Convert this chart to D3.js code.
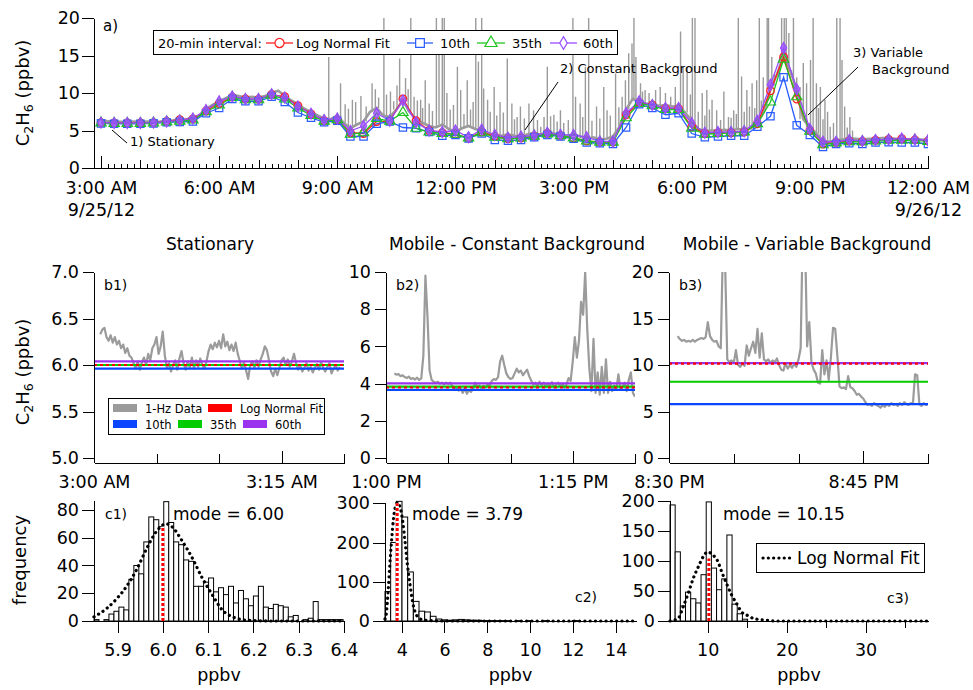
<!DOCTYPE html>
<html>
<head>
<meta charset="utf-8">
<script src="https://cdn.jsdelivr.net/npm/d3@7"></script>
<style>
  body { margin: 0; background: #fff; }
  svg text { font-family: "DejaVu Sans", sans-serif; fill: #000; }
</style>
</head>
<body>
<svg id="chart" width="973" height="690"></svg>
<script>
// ---------------- data ----------------
// (a) 20-minute interval background estimates, 3:00 AM 9/25/12 to 12:00 AM 9/26/12
const intervalMinutes = 20;
const logNormalFit = [6.05,6.00,6.00,6.00,6.05,6.20,6.45,6.55,7.60,8.60,9.45,9.20,9.15,9.80,9.50,8.30,
  7.20,6.30,6.40,4.70,4.60,6.20,6.25,9.20,6.30,5.00,4.70,4.50,4.00,4.80,4.20,3.90,
  4.00,4.25,4.60,4.30,4.00,3.60,3.45,3.45,7.10,8.70,8.40,7.90,7.90,5.50,4.60,4.70,
  4.70,4.80,5.90,10.30,14.80,9.20,5.00,3.20,3.40,3.60,3.55,3.70,3.80,3.90,3.75,3.60];
const pct10 = [5.95,5.90,5.90,5.90,5.95,6.10,6.15,6.20,7.30,8.00,9.20,8.90,8.90,9.50,8.80,7.40,
  6.70,6.10,6.30,4.20,4.20,5.90,6.20,5.40,5.30,4.80,4.30,4.40,3.95,4.60,3.75,3.65,
  3.75,4.10,4.40,4.20,3.90,3.40,3.30,3.20,5.40,8.50,8.00,7.10,7.30,4.60,4.10,4.20,
  4.30,4.30,5.50,6.90,12.10,5.70,4.40,2.80,3.20,3.30,3.20,3.40,3.45,3.40,3.40,3.20];
const pct35 = [6.00,5.95,5.95,5.95,6.00,6.15,6.25,6.40,7.50,8.40,9.40,9.10,9.10,9.70,9.20,8.00,
  7.00,6.25,6.45,4.50,4.70,6.60,6.25,7.40,5.30,4.80,4.60,4.50,4.00,4.70,4.10,3.90,
  4.00,4.25,4.55,4.30,4.00,3.60,3.45,3.45,6.70,8.60,8.30,7.80,7.80,5.30,4.50,4.60,
  4.70,4.80,5.90,8.80,14.50,9.50,4.90,3.10,3.35,3.50,3.50,3.60,3.70,3.70,3.70,3.55];
const pct60 = [6.05,6.00,6.00,6.00,6.05,6.20,6.35,6.60,7.75,8.90,9.55,9.20,9.20,9.85,9.40,8.20,
  7.25,6.40,6.60,4.95,5.60,7.30,6.30,9.00,6.10,5.00,4.80,5.00,4.10,5.15,4.40,4.05,
  4.20,4.35,4.70,4.45,4.40,4.10,3.55,3.55,7.30,8.90,8.40,8.00,8.00,6.00,4.70,4.80,
  4.80,4.90,6.30,11.10,16.00,10.50,5.20,3.50,3.50,3.75,3.60,3.75,3.80,3.95,3.80,3.70];

// (a) 1-Hz record: 10-minute background level from 3:00 AM, plus plume spikes [time, peak]
const greyBaseMinutes = 10;
const greyBase = [6.35,6.25,6.2,6.15,6.15,6.2,6.15,6.2,6.15,6.2,6.3,6.35,
  6.45,6.5,6.7,7.0,7.9,8.4,
  8.9,9.3,9.7,9.6,9.4,9.5,9.4,9.6,10.0,10.3,9.6,9.0,
  8.5,7.9,7.4,7.0,6.6,6.5,
  7.0,6.0,5.3,5.8,6.2,7.5,8.0,7.0,6.8,7.8,9.0,7.5,6.5,6.0,5.6,5.4,5.8,5.2,
  4.8,5.3,5.6,5.2,5.0,4.6,4.4,4.3,4.5,4.3,4.1,4.5,4.7,4.4,4.9,4.6,4.5,4.3,
  4.5,4.2,3.9,4.1,3.8,3.9,4.2,5.5,7.8,9.2,8.8,8.6,8.5,8.3,8.4,8.2,8.3,7.4,
  6.3,5.2,4.9,5.0,5.0,5.1,5.0,5.2,5.1,5.3,6.0,7.5,10.5,12.5,15.0,13.0,10.5,6.5,
  5.4,4.6,3.6,3.5,3.7,3.8,4.0,3.9,3.8,3.9,3.9,4.0,4.0,3.9,3.9,3.8,3.9,3.8,3.7];
const greySpikes = [
  ["08:47",14.8],["09:05",11.3],["09:23",9.1],["09:53",11.3],["10:11",22],["10:21",10.2],
  ["10:35",14.6],["10:52",22],["10:57",9.5],["11:07",9.1],["11:14",11.7],["11:31",22],
  ["11:35",16.4],["11:40",22],["11:43",22],["11:47",10.0],["12:03",13.5],["12:08",10.4],
  ["12:18",11.7],["12:31",22],["12:35",14.2],["12:40",22],["12:43",10.6],["12:49",9.1],
  ["12:59",10.8],["13:08",8.8],["13:19",14.6],["13:26",8.6],["13:34",6.8],["13:39",8.2],
  ["13:52",8.6],["13:59",7.7],["14:10",5.5],["14:20",13.5],["14:30",7.1],["14:40",7.7],
  ["14:59",22],["15:03",9.5],["15:10",8.6],["15:18",13.5],["15:23",22],["15:35",8.2],
  ["15:46",10.8],["15:51",7.7],["16:04",12.6],["16:14",9.5],["16:19",11.7],["16:24",15.3],
  ["16:29",16.6],["16:32",22],["16:35",14.8],["16:42",11.3],["16:49",10.4],["17:12",10.8],
  ["17:28",9.5],["17:43",18.2],["17:47",13.5],["17:53",13.5],["18:01",22],["18:05",22],
  ["18:16",10.0],["18:23",10.4],["18:31",9.1],["18:38",7.7],["18:49",10.2],["18:56",6.8],
  ["19:04",7.7],["19:11",22],["19:16",12.2],["19:24",10.4],["19:32",11.3],["19:39",11.7],
  ["19:43",22],["19:49",12.1],["19:55",22],["19:57",22],["20:02",14.8],["20:10",12.6],
  ["20:17",22],["20:21",22],["20:24",22],["20:28",18.0],["20:32",12.1],["20:35",22],
  ["20:40",12.1],["20:45",10.8],["20:50",14.0],["20:55",11.3],["21:01",14.4],["21:05",22],
  ["21:10",11.3],["21:16",10.8],["21:23",9.1],["21:31",5.5],["21:41",22],["21:46",22],
  ["21:49",14.4],["21:53",8.2],["22:01",6.8],
  ["09:12",8.5],["09:17",7.9],["09:28",8.8],["09:36",9.6],["09:44",8.2],["09:58",10.5],
  ["10:03",9.4],["10:15",9.8],["10:26",8.9],["10:31",11.0],["10:44",12.0],["10:48",10.5],
  ["11:02",9.0],["11:10",8.0],["11:20",8.6],["11:25",7.6],["11:52",7.8],["11:57",8.4],
  ["12:13",7.2],["12:23",7.8],["12:27",8.8],["12:53",7.5],["13:03",7.0],["13:13",7.4],
  ["13:30",6.5],["13:45",6.6],["14:05",6.4],["14:15",6.8],["14:25",6.9],["14:35",6.2],
  ["14:45",6.0],["14:52",6.4],["15:14",6.8],["15:28",6.3],["15:40",6.6],["15:56",7.0],
  ["16:09",8.1],["16:39",9.4],["16:45",10.2],["16:55",10.0],["17:05",10.4],["17:20",10.0],
  ["17:35",10.8],["17:58",9.8],["18:10",7.5],["18:20",7.0],["18:27",7.8],["18:44",6.4],
  ["19:00",6.7],["19:08",7.2],["19:20",7.5],["19:28",8.2],["19:36",8.0],["19:46",9.0],
  ["20:06",11.0],["20:13",13.5],["21:13",8.0],["21:20",6.5],["21:27",7.5],["21:36",6.0],
  ["21:57",5.4],["22:05",5.0]];
const aYTicks = [0, 5, 10, 15, 20];

// (b) 20-minute windows of 1-Hz data, sampled every 10 s
const b1Start = "03:00:30", b2Start = "13:00:40", b3Start = "20:30:40";
const b1Grey = [6.33,6.38,6.40,6.30,6.26,6.32,6.24,6.30,6.22,6.26,6.18,6.22,6.13,6.18,6.10,6.08,
  6.02,5.96,6.04,5.95,6.03,6.08,6.00,6.12,6.05,6.18,6.22,6.30,6.12,6.20,6.36,6.10,
  5.97,6.02,5.93,6.00,6.05,5.95,6.07,6.15,6.02,5.95,6.04,5.97,6.08,5.96,6.05,5.98,
  6.07,6.00,5.96,6.04,6.15,6.22,6.17,6.24,6.19,6.26,6.18,6.33,6.20,6.25,6.16,6.22,
  6.15,6.24,6.12,6.04,5.96,6.03,5.94,5.85,6.00,6.04,5.97,6.05,5.98,6.06,6.12,6.20,
  6.16,6.05,5.93,5.88,5.96,5.89,5.97,6.05,6.08,6.00,6.06,5.98,6.04,6.12,6.02,5.95,
  6.00,5.93,5.97,6.02,5.94,5.98,5.92,5.97,6.01,5.95,6.03,5.97,5.93,5.98,6.02,5.91,
  5.96,6.00,5.94,5.98];
const b2Grey = [4.55,4.48,4.52,4.40,4.45,4.35,4.30,4.38,4.25,4.30,4.22,4.32,4.20,4.28,5.5,9.8,
  7.6,4.7,4.2,4.1,4.05,4.10,4.0,4.05,3.95,4.05,3.98,4.05,3.85,3.70,3.80,3.62,
  3.72,3.50,3.75,3.45,3.65,3.55,3.75,4.05,3.82,3.90,3.75,3.88,3.80,3.95,3.90,4.15,
  4.25,4.20,4.35,5.2,5.5,5.0,4.55,4.35,4.25,4.30,4.55,4.80,4.60,4.70,4.45,4.60,
  4.75,4.40,4.15,3.95,4.05,3.85,4.10,3.90,4.05,3.82,4.00,3.88,4.08,3.80,3.95,4.05,
  3.85,4.00,3.78,3.95,4.30,4.15,5.2,6.5,5.4,6.3,8.4,7.7,10.0,6.9,4.8,3.6,
  6.4,3.5,4.6,3.4,4.9,3.5,5.3,3.5,4.1,3.6,3.9,3.7,4.5,3.7,3.85,4.05,
  3.6,4.2,4.6,3.5,3.3];
const b3Grey = [13.1,12.8,12.6,12.7,12.5,12.6,12.5,12.7,12.5,12.7,12.8,12.9,12.8,13.0,14.6,13.1,
  12.7,12.5,12.6,12.0,11.8,23,21,10.6,10.3,10.5,10.2,11.6,10.0,9.8,10.2,9.9,
  12.1,11.0,11.8,12.5,11.3,13.9,10.8,13.4,10.6,10.4,10.6,10.2,10.5,10.3,10.7,10.0,
  9.5,9.4,10.2,9.6,10.0,9.7,10.1,9.8,10.6,11.8,25,24,12.0,14.6,10.3,9.5,
  9.1,8.1,8.0,11.6,9.0,10.5,8.4,10.8,14.0,13.9,11.0,7.7,7.5,7.6,7.4,8.8,
  7.6,7.5,7.2,6.8,6.9,6.6,6.4,6.0,5.7,5.8,5.6,5.9,5.7,5.6,5.4,5.7,
  5.5,5.8,5.6,5.9,5.7,5.8,5.6,5.9,5.7,6.0,5.8,5.7,5.9,5.8,9.0,8.9,
  5.8,5.6,5.9,5.7,5.8];
const bFit  = [6.00, 3.79, 10.15];
const bPct10 = [5.96, 3.66, 5.80];
const bPct35 = [6.00, 3.84, 8.20];
const bPct60 = [6.04, 4.01, 10.20];
const b1YTicks = [5.0, 5.5, 6.0, 6.5, 7.0];
const b2YTicks = [0, 2, 4, 6, 8, 10];
const b3YTicks = [0, 5, 10, 15, 20];

// (c) histograms of each window with log-normal fits
const c1BinStart = 5.848, c1BinWidth = 0.011;
const c1Counts = [1,0,1,5,7,10,8,30,40,34,57,75,73,68,86,71,57,55,44,43,25,25,28,31,21,
  24,19,25,13,22,16,11,18,25,10,9,12,11,10,3,4,0,1,2,14,1,1,1,1,1];
const c2BinStart = 3.22, c2BinWidth = 0.265;
const c2Counts = [75,200,305,265,125,50,25,23,12,5,3,2,3,4,3,2,2,1,1,1,1,1,0,1,0,1,0,0,1,0,
  0,0,0,1,0,0,0,0,0,0,0,0,0,0];
const c3BinStart = 5.23, c3BinWidth = 0.655;
const c3Counts = [193,115,25,48,37,30,77,198,88,52,70,143,28,12,3];
const c1FitX = [5.848,5.876,5.898,5.92,5.942,5.964,5.987,6.007,6.02,6.042,6.064,6.087,6.109,6.131,6.157,6.187,6.25,6.32,6.4];
const c1FitY = [3,9,16,25,37,52,65,70,68,58,46,31,19,8,2.6,0.5,0,0,0];
const c2FitX = [3.22,3.26,3.37,3.45,3.53,3.61,3.69,3.81,3.92,4.04,4.15,4.26,4.39,4.51,4.62,4.78,5.01,5.33,6,8,10,12,14.95];
const c2FitY = [5,11,79,147,206,257,287,302,291,257,206,147,92,49,24,9,2.5,1,0,0,0,0,0];
const c3FitX = [5.23,5.8,6.28,6.91,7.54,8.18,8.81,9.44,10.0,10.63,11.22,11.77,12.4,13.04,13.67,14.3,14.94,15.77,17.04,19.15,25,37.9];
const c3FitY = [0,1.5,4.4,24,46,71,90,107,115,110,101,82,62,43,29,15,10,4.4,1.7,0,0,0];
const modes = [6.00, 3.79, 10.15];
const modeHeights = [68, 300, 104];
const c1XTicks = [5.9, 6.0, 6.1, 6.2, 6.3, 6.4];
const c2XTicks = [4, 6, 8, 10, 12, 14];
const c3XTicks = [10, 20, 30];
const c3XMinor = [15, 25, 35];
const c1YTicks = [0, 20, 40, 60, 80];
const c2YTicks = [0, 100, 200, 300];
const c3YTicks = [0, 50, 100, 150, 200];

// ---------------- drawing ----------------
const FONT = "DejaVu Sans, sans-serif";
const TICK_FS = 17.5;
const GREY = "#9b9b9b";
const COL = { fit: "#ff1f1f", p10: "#2a5cff", p35: "#1fc41f", p60: "#9a4cff" };
const BCOL = { fit: "#ff0000", p10: "#0a46ff", p35: "#00cc00", p60: "#9933ee" };

const svg = d3.select("#chart");
const clock = (h, m, s) => new Date(2012, 8, 25, h, m || 0, s || 0);
const parseClock = str => { const p = str.split(":").map(Number); return clock(p[0], p[1], p[2] || 0); };

function styleAxis(g, fs) {
  g.attr("font-family", FONT).attr("font-size", fs || TICK_FS);
  g.selectAll("path, line").attr("stroke", "#000").attr("stroke-width", 1).attr("shape-rendering", "crispEdges");
  g.selectAll("text").attr("fill", "#000");
  return g;
}
function addText(x, y, str, fs, anchor) {
  return svg.append("text").attr("x", x).attr("y", y).attr("font-size", fs)
    .attr("text-anchor", anchor || "start").text(str);
}
function chemTitle(cx, cy) {
  const t = svg.append("text").attr("transform", `translate(${cx},${cy}) rotate(-90)`)
    .attr("text-anchor", "middle").attr("font-size", 18);
  t.append("tspan").text("C");
  t.append("tspan").attr("font-size", 12.5).attr("dy", 4).text("2");
  t.append("tspan").attr("dy", -4).text("H");
  t.append("tspan").attr("font-size", 12.5).attr("dy", 4).text("6");
  t.append("tspan").attr("dy", -4).text(" (ppbv)");
}
const symbols = { fit: d3.symbolCircle, p10: d3.symbolSquare, p35: d3.symbolTriangle, p60: d3.symbolDiamond };
const symSize = { fit: 46, p10: 54, p35: 46, p60: 34 };

// ===== Panel a =====
const xA = d3.scaleTime().domain([clock(2, 49, 20), clock(24, 0)]).range([94, 928]);
const yA = d3.scaleLinear().domain([0, 20]).range([168, 18]);
svg.append("clipPath").attr("id", "clipA").append("rect").attr("x", 94).attr("y", 18).attr("width", 834).attr("height", 150);

const gA = svg.append("g").attr("clip-path", "url(#clipA)");
const baseTimes = greyBase.map((v, j) => d3.timeMinute.offset(clock(3, 0), j * greyBaseMinutes));
gA.append("path").datum(greyBase)
  .attr("fill", "none").attr("stroke", GREY).attr("stroke-width", 2.6)
  .attr("d", d3.line().x((d, j) => xA(baseTimes[j])).y(d => yA(d)));
gA.selectAll("line.spike").data(greySpikes).join("line").attr("class", "spike")
  .attr("x1", d => xA(parseClock(d[0]))).attr("x2", d => xA(parseClock(d[0])))
  .attr("y1", d => {
    const j = Math.round((parseClock(d[0]) - clock(3, 0)) / 60000 / greyBaseMinutes);
    return yA(greyBase[j]);
  })
  .attr("y2", d => yA(d[1]))
  .attr("stroke", GREY).attr("stroke-width", 1.4);

const intervalTimes = pct10.map((v, i) => d3.timeMinute.offset(clock(3, 0), i * intervalMinutes));
const seriesA = [
  { key: "fit", values: logNormalFit },
  { key: "p10", values: pct10 },
  { key: "p35", values: pct35 },
  { key: "p60", values: pct60 }
];
seriesA.forEach(s => {
  gA.append("path").datum(s.values).attr("fill", "none").attr("stroke", COL[s.key]).attr("stroke-width", 1.3)
    .attr("d", d3.line().x((d, i) => xA(intervalTimes[i])).y(d => yA(d)));
});
seriesA.forEach(s => {
  gA.selectAll("path.m-" + s.key).data(s.values).join("path").attr("class", "m-" + s.key)
    .attr("transform", (d, i) => `translate(${xA(intervalTimes[i])},${yA(d)})`)
    .attr("d", d3.symbol().type(symbols[s.key]).size(symSize[s.key]))
    .attr("fill", s.key === "p60" ? COL.p60 : "none").attr("fill-opacity", s.key === "p60" ? 0.75 : 1)
    .attr("stroke", COL[s.key]).attr("stroke-width", 1.2);
});

// axes of panel a
styleAxis(svg.append("g").attr("transform", "translate(94,0)")
  .call(d3.axisLeft(yA).tickValues(aYTicks).tickSize(12).tickPadding(2).tickSizeOuter(0)));
const tenMin = d3.timeMinute.every(10).range(clock(2, 50), clock(24, 1));
const hourly = d3.timeHour.every(1).range(clock(3, 0), clock(24, 1));
const threeHourly = d3.timeHour.every(3).range(clock(3, 0), clock(24, 1));
styleAxis(svg.append("g").attr("transform", "translate(0,168)")
  .call(d3.axisBottom(xA).tickValues(tenMin).tickSizeInner(-4).tickSizeOuter(0).tickFormat("")));
styleAxis(svg.append("g").attr("transform", "translate(0,168)")
  .call(d3.axisBottom(xA).tickValues(hourly).tickSizeInner(-8).tickSizeOuter(0).tickFormat("")));
const fmtClock = d3.timeFormat("%-I:%M %p");
const fmtDate = d3.timeFormat("%-m/%d/%y");
const axA = styleAxis(svg.append("g").attr("transform", "translate(0,168)")
  .call(d3.axisBottom(xA).tickValues(threeHourly).tickSizeInner(-12).tickSizeOuter(0).tickPadding(14).tickFormat(fmtClock)));
axA.selectAll(".tick text").each(function (d, i, nodes) {
  if (i === 0 || i === nodes.length - 1) {
    d3.select(this).append("tspan").attr("x", 0).attr("dy", "1.22em").text(fmtDate(d));
  }
});
chemTitle(29, 93);
addText(103, 31, "a)", 15);

// annotations of panel a
svg.append("line").attr("x1", 112).attr("y1", 130).attr("x2", 127).attr("y2", 143).attr("stroke", "#000");
addText(130, 146, "1) Stationary", 13);
svg.append("line").attr("x1", 558).attr("y1", 82).attr("x2", 525).attr("y2", 130).attr("stroke", "#000");
addText(560, 73, "2) Constant Background", 13);
svg.append("line").attr("x1", 858).attr("y1", 67).attr("x2", 808).attr("y2", 115).attr("stroke", "#000");
addText(853, 57, "3) Variable", 13);
addText(872, 74, "Background", 13);

// legend of panel a
const legA = svg.append("g");
legA.append("rect").attr("x", 153.5).attr("y", 30.5).attr("width", 464).attr("height", 24)
  .attr("fill", "#fff").attr("stroke", "#000");
legA.append("text").attr("x", 158).attr("y", 47.5).attr("font-size", 13).text("20-min interval:");
const legItems = [
  { key: "fit", label: "Log Normal Fit", x1: 266, x2: 293, tx: 296 },
  { key: "p10", label: "10th", x1: 407, x2: 433, tx: 440 },
  { key: "p35", label: "35th", x1: 477, x2: 505, tx: 512 },
  { key: "p60", label: "60th", x1: 550, x2: 577, tx: 583 }
];
legItems.forEach(it => {
  legA.append("line").attr("x1", it.x1).attr("x2", it.x2).attr("y1", 43).attr("y2", 43)
    .attr("stroke", COL[it.key]).attr("stroke-width", 1.3);
  legA.append("path").attr("transform", `translate(${(it.x1 + it.x2) / 2},43)`)
    .attr("d", d3.symbol().type(symbols[it.key]).size(symSize[it.key] * 1.4))
    .attr("fill", "#fff").attr("stroke", COL[it.key]).attr("stroke-width", 1.2);
  legA.append("text").attr("x", it.tx).attr("y", 47.5).attr("font-size", 13).text(it.label);
});

// ===== Panels b =====
const bPanels = [
  { start: b1Start, t0: clock(3, 0), grey: b1Grey, x0: 94, x1: 344, dom: [5, 7], ticks: b1YTicks, fmt: d3.format(".1f"), tag: "b1)", title: "Stationary", titleX: 210 },
  { start: b2Start, t0: clock(13, 0), grey: b2Grey, x0: 386, x1: 635, dom: [0, 10], ticks: b2YTicks, fmt: d3.format("d"), tag: "b2)", title: "Mobile - Constant Background", titleX: 517 },
  { start: b3Start, t0: clock(20, 30), grey: b3Grey, x0: 669, x1: 928, dom: [0, 20], ticks: b3YTicks, fmt: d3.format("d"), tag: "b3)", title: "Mobile - Variable Background", titleX: 807 }
];
bPanels.forEach((p, k) => {
  const x = d3.scaleTime().domain([p.t0, d3.timeMinute.offset(p.t0, 20)]).range([p.x0, p.x1]);
  const y = d3.scaleLinear().domain(p.dom).range([458, 272]);
  const cid = "clipB" + k;
  svg.append("clipPath").attr("id", cid).append("rect")
    .attr("x", p.x0).attr("y", 272).attr("width", p.x1 - p.x0).attr("height", 191);
  const g = svg.append("g").attr("clip-path", `url(#${cid})`);
  const t0 = parseClock(p.start);
  g.append("path").datum(p.grey).attr("fill", "none").attr("stroke", GREY).attr("stroke-width", 2.2)
    .attr("stroke-linejoin", "round")
    .attr("d", d3.line().x((d, i) => x(d3.timeSecond.offset(t0, i * 10))).y(d => y(d)));
  const hline = (v, color, dash) => g.append("line")
    .attr("x1", p.x0).attr("x2", p.x1).attr("y1", y(v)).attr("y2", y(v))
    .attr("stroke", color).attr("stroke-width", 2.2).attr("stroke-dasharray", dash || null);
  hline(bPct10[k], BCOL.p10);
  hline(bPct35[k], BCOL.p35);
  hline(bPct60[k], BCOL.p60);
  hline(bFit[k], BCOL.fit, "3,3");

  styleAxis(svg.append("g").attr("transform", `translate(${p.x0},0)`)
    .call(d3.axisLeft(y).tickValues(p.ticks).tickFormat(p.fmt).tickSize(11).tickPadding(4).tickSizeOuter(0)));
  svg.append("line").attr("x1", p.x0 + 0.5).attr("x2", p.x0 + 0.5).attr("y1", 458).attr("y2", 463)
    .attr("stroke", "#000");
  const fiveMin = d3.timeMinute.every(5).range(p.t0, d3.timeMinute.offset(p.t0, 21));
  styleAxis(svg.append("g").attr("transform", "translate(0,463)")
    .call(d3.axisBottom(x).tickValues(fiveMin).tickSizeInner(-9).tickSizeOuter(0).tickFormat("")));
  styleAxis(svg.append("g").attr("transform", "translate(0,463)")
    .call(d3.axisBottom(x).tickValues([p.t0, d3.timeMinute.offset(p.t0, 15)])
      .tickSizeInner(-12).tickSizeOuter(0).tickPadding(13).tickFormat(fmtClock)));
  addText(p.titleX, 250, p.title, 17, "middle");
  addText(p.x0 + 10, 290, p.tag, 14);
});
chemTitle(29, 372);

// legend of panel b1
const legB = svg.append("g");
legB.append("rect").attr("x", 108.5).attr("y", 398.5).attr("width", 216).attr("height", 36)
  .attr("fill", "#fff").attr("stroke", "#000");
const legBItems = [
  { c: GREY, label: "1-Hz Data", x: 113, y: 408 },
  { c: BCOL.fit, label: "Log Normal Fit", x: 208, y: 408 },
  { c: BCOL.p10, label: "10th", x: 113, y: 424 },
  { c: BCOL.p35, label: "35th", x: 178, y: 424 },
  { c: BCOL.p60, label: "60th", x: 243, y: 424 }
];
legBItems.forEach(it => {
  legB.append("rect").attr("x", it.x).attr("y", it.y - 4).attr("width", 24).attr("height", 8).attr("fill", it.c);
  legB.append("text").attr("x", it.x + 32).attr("y", it.y + 4.5).attr("font-size", 11.5).text(it.label);
});

// ===== Panels c =====
const cPanels = [
  { x0: 94, x1: 344, dom: [5.848, 6.4], yMax: 87.2, yTop: 500, bin0: c1BinStart, bw: c1BinWidth, counts: c1Counts,
    fx: c1FitX, fy: c1FitY, xt: c1XTicks, xf: d3.format(".1f"), yt: c1YTicks, tag: "c1)", tagX: 105, tagY: 519, modeX: 173 },
  { x0: 385, x1: 636, dom: [3.22, 14.95], yMax: 303.3, yTop: 502, bin0: c2BinStart, bw: c2BinWidth, counts: c2Counts,
    fx: c2FitX, fy: c2FitY, xt: c2XTicks, xf: d3.format("d"), yt: c2YTicks, tag: "c2)", tagX: 575, tagY: 602, modeX: 412 },
  { x0: 670, x1: 928, dom: [5.23, 37.9], yMax: 201.2, yTop: 500, bin0: c3BinStart, bw: c3BinWidth, counts: c3Counts,
    fx: c3FitX, fy: c3FitY, xt: c3XTicks, xf: d3.format("d"), yt: c3YTicks, tag: "c3)", tagX: 887, tagY: 603, modeX: 723, minor: c3XMinor }
];
cPanels.forEach((p, k) => {
  const x = d3.scaleLinear().domain(p.dom).range([p.x0, p.x1]);
  const y = d3.scaleLinear().domain([0, p.yMax]).range([621, p.yTop]);
  const g = svg.append("g");
  g.selectAll("rect").data(p.counts).join("rect")
    .attr("x", (d, i) => x(p.bin0 + i * p.bw))
    .attr("width", () => x(p.bin0 + p.bw) - x(p.bin0))
    .attr("y", d => y(d)).attr("height", d => 621 - y(d))
    .attr("fill", "#fff").attr("stroke", "#000").attr("stroke-width", 1);
  const fitPts = p.fx.map((v, i) => [v, p.fy[i]]);
  g.append("path").datum(fitPts).attr("fill", "none").attr("stroke", "#000").attr("stroke-width", 3.2)
    .attr("stroke-linecap", "round").attr("stroke-dasharray", "0.1,5.2")
    .attr("d", d3.line().curve(d3.curveMonotoneX).x(d => x(d[0])).y(d => y(d[1])));
  g.append("line").attr("x1", x(modes[k])).attr("x2", x(modes[k])).attr("y1", 621).attr("y2", y(modeHeights[k]))
    .attr("stroke", "#fff").attr("stroke-width", 3);
  g.append("line").attr("x1", x(modes[k])).attr("x2", x(modes[k])).attr("y1", 621).attr("y2", y(modeHeights[k]))
    .attr("stroke", "#ff0000").attr("stroke-width", 3).attr("stroke-dasharray", "3,2");

  styleAxis(svg.append("g").attr("transform", `translate(${p.x0},0)`)
    .call(d3.axisLeft(y).tickValues(p.yt).tickSize(12).tickPadding(3).tickSizeOuter(0)));
  styleAxis(svg.append("g").attr("transform", "translate(0,621)")
    .call(d3.axisBottom(x).tickValues(p.xt).tickFormat(p.xf).tickSize(12).tickPadding(11).tickSizeOuter(0)));
  if (p.minor) {
    styleAxis(svg.append("g").attr("transform", "translate(0,621)")
      .call(d3.axisBottom(x).tickValues(p.minor).tickFormat("").tickSize(7).tickSizeOuter(0)));
  }
  addText((p.x0 + p.x1) / 2, 681, "ppbv", 17.5, "middle");
  addText(p.tagX, p.tagY, p.tag, 14);
  addText(p.modeX, 520, "mode = " + d3.format(".2f")(modes[k]), 17);
});
svg.append("text").attr("transform", "translate(26,560) rotate(-90)").attr("text-anchor", "middle")
  .attr("font-size", 18).text("frequency");

// legend of panel c3
const legC = svg.append("g");
legC.append("rect").attr("x", 756.5).attr("y", 543.5).attr("width", 168).attr("height", 29)
  .attr("fill", "#fff").attr("stroke", "#000");
legC.append("line").attr("x1", 763).attr("x2", 790).attr("y1", 558).attr("y2", 558)
  .attr("stroke", "#000").attr("stroke-width", 3.2).attr("stroke-linecap", "round").attr("stroke-dasharray", "0.1,5.2");
legC.append("text").attr("x", 797).attr("y", 564).attr("font-size", 17).text("Log Normal Fit");
</script>
</body>
</html>
